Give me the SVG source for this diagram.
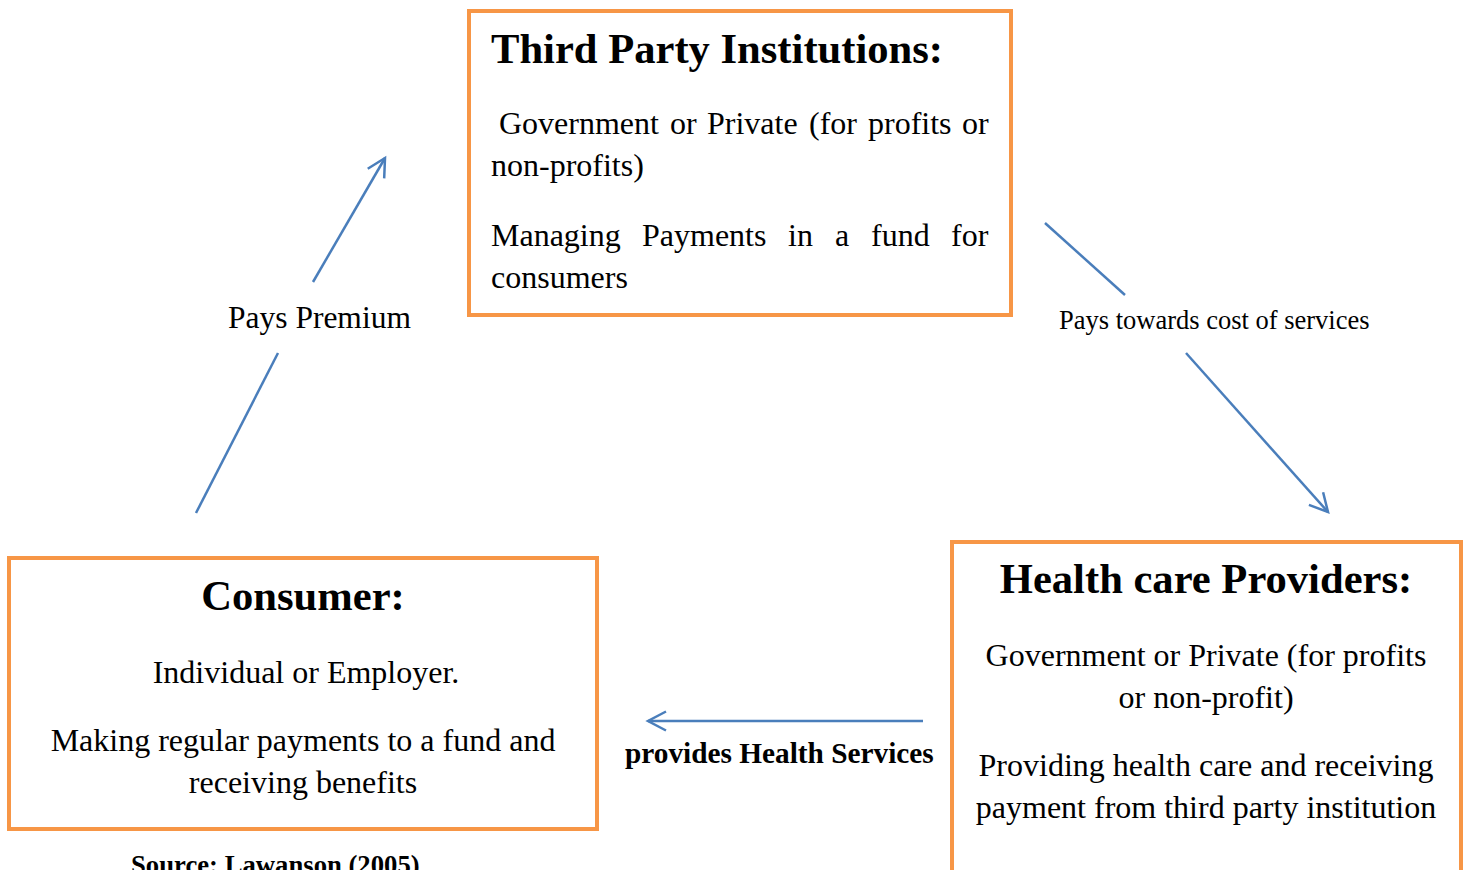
<svg xmlns="http://www.w3.org/2000/svg" width="1468" height="870" viewBox="0 0 1468 870">
  <style>
    .box { fill: #ffffff; stroke: #F79646; stroke-width: 4; }
    .title { font-family: "Liberation Serif", "Times New Roman", serif; font-weight: bold; font-size: 42.6px; fill: #000; }
    .body { font-family: "Liberation Serif", "Times New Roman", serif; font-size: 32px; fill: #000; }
    .mid { text-anchor: middle; }
    .link { fill: none; stroke: #4A7EBB; stroke-width: 2.5; }
    .lbl { font-family: "Liberation Serif", "Times New Roman", serif; fill: #000; }
  </style>
  <defs>
    <marker id="arrow" viewBox="0 0 22 22" refX="19" refY="11" markerWidth="22" markerHeight="22" orient="auto" markerUnits="userSpaceOnUse" overflow="visible">
      <path d="M1,1.5 L19,11 L1,20.5" fill="none" stroke="#4A7EBB" stroke-width="2.5"/>
    </marker>
  </defs>

  <rect width="1468" height="870" fill="#ffffff"/>

  <!-- Third party institutions -->
  <g id="third-party">
    <rect class="box" x="469" y="11" width="542" height="304"/>
    <text class="title" x="491" y="63">Third Party Institutions:</text>
    <text class="body" y="134">
      <tspan x="499">Government</tspan><tspan x="670">or</tspan><tspan x="707">Private</tspan><tspan x="809">(for</tspan><tspan x="868">profits</tspan><tspan x="962">or</tspan>
    </text>
    <text class="body" x="491" y="176">non-profits)</text>
    <text class="body" y="246">
      <tspan x="491">Managing</tspan><tspan x="642">Payments</tspan><tspan x="788">in</tspan><tspan x="835">a</tspan><tspan x="871">fund</tspan><tspan x="951">for</tspan>
    </text>
    <text class="body" x="491" y="288">consumers</text>
  </g>

  <!-- Consumer -->
  <g id="consumer">
    <rect class="box" x="9" y="558" width="588" height="271"/>
    <text class="title mid" x="303" y="610">Consumer:</text>
    <text class="body mid" x="306" y="683">Individual or Employer.</text>
    <text class="body mid" x="303" y="751">Making regular payments to a fund and</text>
    <text class="body mid" x="303" y="793">receiving benefits</text>
  </g>

  <!-- Health care providers -->
  <g id="providers">
    <rect class="box" x="952" y="542" width="509" height="345"/>
    <text class="title mid" x="1206" y="593">Health care Providers:</text>
    <text class="body mid" x="1206" y="666">Government or Private (for profits</text>
    <text class="body mid" x="1206" y="708">or non-profit)</text>
    <text class="body mid" x="1206" y="776">Providing health care and receiving</text>
    <text class="body mid" x="1206" y="818">payment from third party institution</text>
  </g>

  <!-- Connectors -->
  <g id="connectors">
    <line class="link" x1="196" y1="513" x2="278" y2="353"/>
    <line class="link" x1="313" y1="282" x2="385" y2="158" marker-end="url(#arrow)"/>
    <line class="link" x1="1045" y1="223" x2="1125" y2="295"/>
    <line class="link" x1="1186" y1="353" x2="1328" y2="512" marker-end="url(#arrow)"/>
    <line class="link" x1="923" y1="721" x2="648" y2="721" marker-end="url(#arrow)"/>
  </g>

  <!-- Connector labels -->
  <g id="labels">
    <text class="lbl" x="228" y="328" font-size="31.5px">Pays Premium</text>
    <text class="lbl" x="1059" y="329" font-size="26.5px">Pays towards cost of services</text>
    <text class="lbl" x="625" y="763" font-size="29.3px" font-weight="bold">provides Health Services</text>
  </g>

  <!-- Source note, running off the lower edge -->
  <text id="source" class="lbl" x="131" y="874" font-size="26.7px" font-weight="bold">Source: Lawanson (2005)</text>
</svg>
